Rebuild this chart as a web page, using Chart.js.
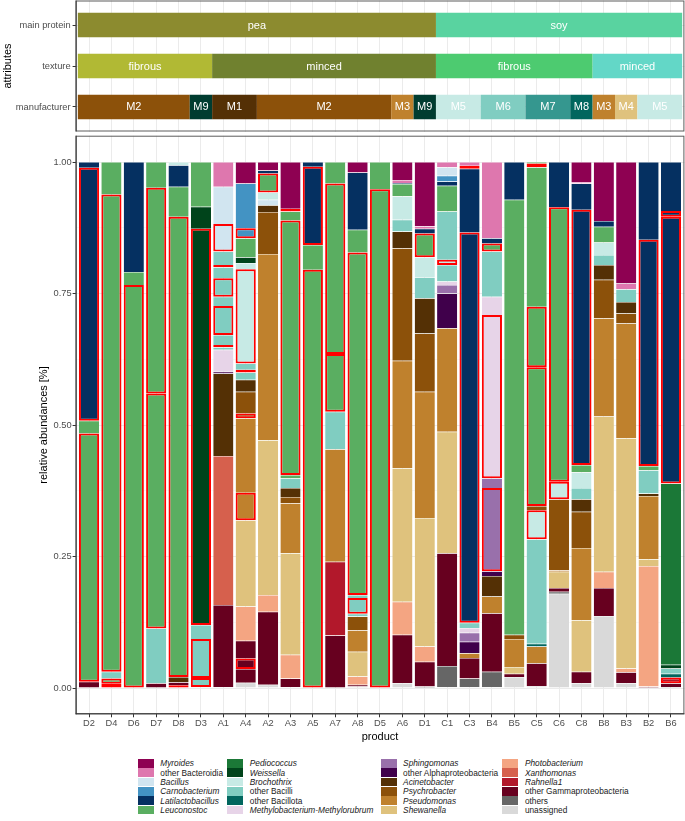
<!DOCTYPE html>
<html><head><meta charset="utf-8">
<script src="https://cdn.jsdelivr.net/npm/chart.js@4.4.1/dist/chart.umd.min.js"></script>
<style>
html,body{margin:0;padding:0;background:#fff;}
body{width:685px;height:821px;position:relative;overflow:hidden;font-family:"Liberation Sans",Arial,sans-serif;}
#top{position:absolute;left:0;top:0;}
#main{position:absolute;left:0;top:133px;}
.sw{position:absolute;width:16px;height:8.7px;}
.tx{position:absolute;font-size:8.3px;line-height:10px;color:#1a1a1a;white-space:nowrap;}
</style></head><body>
<canvas id="top" width="685" height="133"></canvas>
<canvas id="main" width="685" height="617"></canvas>
<div id="legend"></div>
<script>
// ---------------- data ----------------
const products = ['D2','D4','D6','D7','D8','D3','A1','A4','A2','A3','A5','A7','A8','D5','A6','D1','C1','C3','B4','B5','C5','C6','C8','B8','B3','B2','B6'];
const protein = ['pea','pea','pea','pea','pea','pea','pea','pea','pea','pea','pea','pea','pea','pea','pea','pea','soy','soy','soy','soy','soy','soy','soy','soy','soy','soy','soy'];
const texture = ['fibrous','fibrous','fibrous','fibrous','fibrous','fibrous','minced','minced','minced','minced','minced','minced','minced','minced','minced','minced','fibrous','fibrous','fibrous','fibrous','fibrous','fibrous','fibrous','minced','minced','minced','minced'];
const manufacturer = ['M2','M2','M2','M2','M2','M9','M1','M1','M2','M2','M2','M2','M2','M2','M3','M9','M5','M5','M6','M6','M7','M7','M8','M3','M4','M5','M5'];
const attributeRows = ['main protein','texture','manufacturer'];
const yTickValues = [0, 0.25, 0.5, 0.75, 1];
const yTickLabels = ['0.00','0.25','0.50','0.75','1.00'];

const taxaCodes = ['MYR','OBD','BAC','CAR','LAT','LEU','PED','WEI','BRO','OBI','OBT','MET','SPH','OAL','ACI','PSY','PSE','SHE','PHO','XAN','RAH','OGA','OTH','UNA'];
const taxaNames = ['Myroides','other Bacteroidia','Bacillus','Carnobacterium','Latilactobacillus','Leuconostoc','Pediococcus','Weissella','Brochothrix','other Bacilli','other Bacillota','Methylobacterium-Methylorubrum','Sphingomonas','other Alphaproteobacteria','Acinetobacter','Psychrobacter','Pseudomonas','Shewanella','Photobacterium','Xanthomonas','Rahnella1','other Gammaproteobacteria','others','unassigned'];
const taxaItalic = [1,0,1,1,1,1,1,1,1,0,0,1,1,0,1,1,1,1,1,1,1,0,0,0];

// segments per product, bottom to top: [taxon, relative abundance, highlighted]
const sD2 = [['OGA',0.012],['LEU',0.472,1],['LEU',0.024],['LAT',0.481,1],['LAT',0.011]];
const sD4 = [['LEU',0.008,1],['LEU',0.010,1],['OBI',0.013],['LEU',0.907,1],['LEU',0.062]];
const sD6 = [['LEU',0.766,1],['LEU',0.025],['LAT',0.209]];
const sD7 = [['OGA',0.009],['OBI',0.104],['LEU',0.447,1],['LEU',0.391,1],['LEU',0.049]];
const sD8 = [['LEU',0.005,1],['OGA',0.006],['ACI',0.010],['LEU',0.875,1],['LEU',0.057],['LAT',0.041],['BRO',0.006]];
const sD3 = [['UNA',0.002],['OBI',0.017,1],['OBI',0.074,1],['OBI',0.027],['WEI',0.753,1],['WEI',0.042],['LEU',0.085]];
const sA1 = [['UNA',0.002],['OGA',0.156],['XAN',0.283],['ACI',0.157],['OAL',0.003],['MET',0.042],['OBI',0.005],['OBI',0.004,1],['OBI',0.019],['OBI',0.055,1],['OBI',0.018],['OBI',0.035,1],['OBI',0.021],['OBI',0.004,1],['OBI',0.026],['BAC',0.052,1],['BAC',0.071],['OBD',0.047]];
const sA4 = [['UNA',0.010],['OGA',0.026],['OGA',0.020,1],['OGA',0.034],['PHO',0.065],['SHE',0.164],['PSE',0.052,1],['PSE',0.142],['PSY',0.009,1],['PSY',0.041],['ACI',0.023],['OBI',0.014],['OBI',0.005,1],['OBI',0.012],['BRO',0.179,1],['BRO',0.012],['WEI',0.011],['LEU',0.036],['CAR',0.019,1],['CAR',0.085],['MYR',0.041]];
const sA2 = [['UNA',0.006],['OGA',0.139],['PHO',0.032],['SHE',0.294],['PSE',0.354],['PSY',0.080],['ACI',0.013],['BAC',0.010],['BRO',0.014],['LEU',0.036,1],['LAT',0.006],['MYR',0.016]];
const sA3 = [['UNA',0.002],['OGA',0.016],['PHO',0.045],['SHE',0.193],['PSE',0.095],['PSY',0.012],['ACI',0.017],['OBI',0.019],['LEU',0.006],['LEU',0.484,1],['LEU',0.017],['OBD',0.005,1],['MYR',0.089]];
const sA5 = [['LEU',0.795,1],['LEU',0.047],['LAT',0.149,1],['LAT',0.009]];
const sA7 = [['OGA',0.100],['RAH',0.140],['PSE',0.214],['OBI',0.071],['LEU',0.110,1],['LEU',0.324,1],['LEU',0.041]];
const sA8 = [['UNA',0.003],['OGA',0.003],['PHO',0.016],['SHE',0.047],['PSE',0.041],['PSY',0.026],['OBI',0.005],['OBI',0.030,1],['OBI',0.006],['LEU',0.651,1],['LEU',0.043],['LAT',0.109],['MYR',0.020]];
const sD5 = [['LEU',0.948,1],['LEU',0.052]];
const sA6 = [['UNA',0.009],['OGA',0.092],['PHO',0.063],['SHE',0.254],['PSE',0.204],['PSY',0.214],['ACI',0.032],['OBI',0.022],['BRO',0.045],['LEU',0.023],['LAT',0.002],['OBD',0.006],['MYR',0.034]];
const sD1 = [['OTH',0.003],['OGA',0.047],['PHO',0.029],['SHE',0.244],['PSE',0.240],['PSY',0.111],['ACI',0.067],['OBI',0.040],['BRO',0.038],['LEU',0.045,1],['LAT',0.009],['OBD',0.005],['MYR',0.122]];
const sC1 = [['UNA',0.002],['OTH',0.040],['OGA',0.214],['SHE',0.231],['PSE',0.197],['OAL',0.066],['SPH',0.016],['MET',0.007],['OBI',0.031],['BRO',0.010,1],['OBI',0.092],['LEU',0.049],['LAT',0.008],['CAR',0.011],['BAC',0.016],['OBD',0.010]];
const sC3 = [['UNA',0.002],['OTH',0.016],['OGA',0.039],['PSE',0.009],['OAL',0.022],['SPH',0.017],['MET',0.009],['OBI',0.010],['LAT',0.742,1],['LAT',0.121],['OBD',0.006,1],['OBD',0.007]];
const sB4 = [['UNA',0.002],['OTH',0.029],['OGA',0.111],['PSE',0.032],['ACI',0.039],['OAL',0.009],['SPH',0.158,1],['SPH',0.019],['MET',0.310,1],['MET',0.035],['OBI',0.086],['LEU',0.015,1],['LAT',0.010],['OBD',0.145]];
const sB5 = [['UNA',0.021],['OGA',0.006],['SHE',0.013],['PSE',0.053],['PSY',0.008],['LEU',0.827],['LAT',0.072]];
const sC5 = [['UNA',0.004],['OGA',0.043],['PSE',0.032],['OBT',0.005],['OBI',0.199],['BRO',0.055,1],['PSY',0.008],['LEU',0.264,1],['LEU',0.115,1],['LEU',0.265],['LEU',0.007,1],['LEU',0.003]];
const sC6 = [['UNA',0.179],['OTH',0.004],['OGA',0.007],['SHE',0.031],['PSE',0.003],['PSY',0.135],['BRO',0.033,1],['LEU',0.522,1],['LAT',0.086]];
const sC8 = [['UNA',0.009],['OGA',0.022],['SHE',0.098],['PSE',0.137],['PSY',0.069],['ACI',0.024],['OBI',0.021],['BRO',0.030],['LEU',0.014],['LAT',0.485,1],['LAT',0.050],['OBD',0.003],['MYR',0.038]];
const sB8 = [['UNA',0.137],['OGA',0.053],['PHO',0.031],['SHE',0.295],['PSE',0.187],['PSY',0.073],['ACI',0.028],['OBI',0.019],['BRO',0.024],['LEU',0.030],['LAT',0.011],['MYR',0.112]];
const sB3 = [['UNA',0.009],['OGA',0.021],['PHO',0.007],['SHE',0.438],['PSE',0.218],['PSY',0.019],['ACI',0.022],['OBI',0.024],['OBD',0.011],['MYR',0.231]];
const sB2 = [['OGA',0.003],['PHO',0.229],['SHE',0.013],['PSE',0.120],['ACI',0.005],['OBI',0.044],['LEU',0.008],['LAT',0.430,1],['LAT',0.148]];
const sB6 = [['OTH',0.002],['OGA',0.007],['RAH',0.011,1],['OBT',0.007],['OBI',0.010],['WEI',0.007],['PED',0.345],['LAT',0.507,1],['LAT',0.011,1],['LAT',0.093]];
const segmentsByProduct = [sD2,sD4,sD6,sD7,sD8,sD3,sA1,sA4,sA2,sA3,sA5,sA7,sA8,sD5,sA6,sD1,sC1,sC3,sB4,sB5,sC5,sC6,sC8,sB8,sB3,sB2,sB6];

// ---------------- styles ----------------
const taxaColors = {MYR:'#8E0152',OBD:'#DE77AE',BAC:'#D1E5F0',CAR:'#4393C3',LAT:'#053061',LEU:'#5AAE61',PED:'#1B7837',WEI:'#00441B',BRO:'#C7EAE5',OBI:'#80CDC1',OBT:'#01665E',MET:'#E7D4E8',SPH:'#9970AB',OAL:'#40004B',ACI:'#543005',PSY:'#8C510A',PSE:'#BF812D',SHE:'#DFC27D',PHO:'#F4A582',XAN:'#D6604D',RAH:'#B2182B',OGA:'#67001F',OTH:'#666666',UNA:'#D9D9D9'};
const tileColors = {'pea':'#8C8B2F','soy':'#59D3A0','pea fibrous':'#B1B934','pea minced':'#70812F','soy fibrous':'#4DCB70','soy minced':'#63D7C7',
  M1:'#543005',M2:'#8C510A',M3:'#BF812D',M4:'#DFC27D',M5:'#C7EAE5',M6:'#80CDC1',M7:'#35978F',M8:'#01665E',M9:'#003C30'};
const FAM = '"Liberation Sans", Arial, sans-serif';
Chart.defaults.font.family = FAM;

function runs(labelFn, keyFn){
  const out=[]; let s=0;
  for(let i=1;i<=products.length;i++){
    if(i===products.length || keyFn(i)!==keyFn(s)){ out.push({start:s,end:i-1,label:labelFn(s),key:keyFn(s)}); s=i; }
  }
  return out;
}
const rowRuns = [
  runs(i=>protein[i], i=>protein[i]),
  runs(i=>texture[i], i=>protein[i]+' '+texture[i]),
  runs(i=>manufacturer[i], i=>manufacturer[i])
];
const topDatasets = rowRuns.map((rr,row)=>({
  data: rr.map(r=>({y:row, x:[r.start-0.5, r.end+0.5], label:r.label, c:tileColors[r.key]})),
  backgroundColor: c=> c.raw ? c.raw.c : '#000',
  borderWidth:0, grouped:false, barPercentage:0.6, categoryPercentage:1
}));

const maxLayers = Math.max(...segmentsByProduct.map(s=>s.length));
const mainDatasets = [];
for(let k=0;k<maxLayers;k++){
  const data=[];
  segmentsByProduct.forEach((segs,i)=>{
    if(k<segs.length){
      let cum=0; for(let m=0;m<k;m++) cum+=segs[m][1];
      const seg=segs[k];
      data.push({x:i, y:[cum, cum+seg[1]], c:taxaColors[seg[0]], h:!!seg[2]});
    }
  });
  mainDatasets.push({
    data, grouped:false, barPercentage:0.9, categoryPercentage:1, borderSkipped:false,
    backgroundColor: c=> c.raw ? c.raw.c : '#000',
    borderColor: c=> (c.raw && c.raw.h) ? '#FF0000' : '#FFFFFF',
    borderWidth: c=> (c.raw && c.raw.h) ? 2 : {top:0.5,right:0,bottom:0,left:0}
  });
}

const panelBorder = { id:'panelBorder', afterDraw(chart){
  const {ctx, chartArea:a} = chart;
  ctx.save();
  ctx.lineWidth=1; ctx.strokeStyle='#5c5c5c';
  ctx.strokeRect(a.left+0.5, a.top+0.5, a.right-a.left-1, a.bottom-a.top-1);
  ctx.strokeStyle='#333333';
  ctx.beginPath(); ctx.moveTo(a.left+0.5,a.top); ctx.lineTo(a.left+0.5,a.bottom);
  if(chart.canvas.id==='main'){ ctx.moveTo(a.left,a.bottom-0.5); ctx.lineTo(a.right,a.bottom-0.5); }
  ctx.stroke();
  ctx.restore();
}};
const tileLabels = { id:'tileLabels', afterDatasetsDraw(chart){
  const ctx=chart.ctx; ctx.save();
  ctx.fillStyle='#FFFFFF'; ctx.font='11px '+FAM; ctx.textAlign='center'; ctx.textBaseline='middle';
  chart.data.datasets.forEach((ds,di)=>{
    chart.getDatasetMeta(di).data.forEach((el,j)=>{
      const p=el.getProps(['x','y','base'],true);
      ctx.fillText(ds.data[j].label,(p.x+p.base)/2,p.y+0.5);
    });
  });
  ctx.restore();
}};
function noPad(s){ s.paddingTop=0; s.paddingBottom=0; s.paddingLeft=0; s.paddingRight=0; }

new Chart(document.getElementById('top'), {
  type:'bar',
  data:{datasets:topDatasets},
  options:{
    indexAxis:'y', responsive:false, animation:false, devicePixelRatio:1,
    layout:{padding:{top:0.5,right:0.6,bottom:1.5,left:0}},
    plugins:{legend:{display:false}, tooltip:{enabled:false}},
    scales:{
      x:{type:'linear', min:-0.6, max:26.6, offset:false,
         ticks:{display:false, stepSize:1, includeBounds:false},
         grid:{color:'#EBEBEB', drawTicks:false, offset:false}, border:{display:false},
         afterFit:s=>{s.height=0; noPad(s);}},
      y:{type:'linear', reverse:true, min:-0.6, max:2.6, offset:false,
         ticks:{stepSize:1, includeBounds:false, callback:v=>attributeRows[v], font:{size:9.3}, color:'#4D4D4D', padding:2},
         grid:{color:'#EBEBEB', tickLength:3, tickColor:'#333333', offset:false}, border:{display:false},
         title:{display:true, text:'attributes', font:{size:11}, color:'#000000', padding:{top:1,bottom:0}},
         afterFit:s=>{s.width=75.6; noPad(s);}}
    }
  },
  plugins:[panelBorder, tileLabels]
});

const isMajor = v => yTickValues.indexOf(v) >= 0;
new Chart(document.getElementById('main'), {
  type:'bar',
  data:{datasets:mainDatasets},
  options:{
    responsive:false, animation:false, devicePixelRatio:1,
    layout:{padding:{top:2.7,right:0.6,bottom:0,left:0}},
    plugins:{legend:{display:false}, tooltip:{enabled:false}},
    scales:{
      x:{type:'linear', min:-0.6, max:26.6, offset:false,
         ticks:{stepSize:1, includeBounds:false, autoSkip:false, maxRotation:0, callback:v=>products[v], font:{size:9.3}, color:'#4D4D4D', padding:1},
         grid:{color:'#EBEBEB', tickLength:3, tickColor:'#333333', offset:false}, border:{display:false},
         title:{display:true, text:'product', font:{size:11}, color:'#000000', padding:{top:0,bottom:6.4}},
         afterFit:s=>{s.height=35.7; noPad(s);}},
      y:{type:'linear', min:-0.05, max:1.05,
         ticks:{stepSize:0.125, includeBounds:false, autoSkip:false, callback:v=>{const i=yTickValues.indexOf(v); return i>=0?yTickLabels[i]:'';}, font:{size:9.3}, color:'#4D4D4D', padding:1},
         grid:{color:c=>isMajor(c.tick.value)?'#EBEBEB':'#F3F3F3', lineWidth:c=>isMajor(c.tick.value)?1:0.6, tickLength:3, tickColor:c=>isMajor(c.tick.value)?'#333333':'rgba(0,0,0,0)'},
         border:{display:false},
         title:{display:true, text:'relative abundances [%]', font:{size:11}, color:'#000000', padding:{top:37.4,bottom:0}},
         afterFit:s=>{s.width=75.6; noPad(s);}}
    }
  },
  plugins:[panelBorder]
});

// ---------------- legend (4 columns x 6 rows) ----------------
const legendEl = document.getElementById('legend');
const colSwatchX = [137.8, 227.3, 380.6, 502.4];
taxaCodes.forEach((code,idx)=>{
  const col=Math.floor(idx/6), row=idx%6;
  const cy = 763.3 + row*9.33;
  const sw=document.createElement('div'); sw.className='sw';
  sw.style.left=colSwatchX[col]+'px'; sw.style.top=(cy-4.35)+'px'; sw.style.background=taxaColors[code];
  legendEl.appendChild(sw);
  const tx=document.createElement('div'); tx.className='tx';
  tx.style.left=(colSwatchX[col]+22.5)+'px'; tx.style.top=(cy-5)+'px';
  if(taxaItalic[idx]) tx.style.fontStyle='italic';
  tx.textContent=taxaNames[idx];
  legendEl.appendChild(tx);
});
</script>
</body></html>
